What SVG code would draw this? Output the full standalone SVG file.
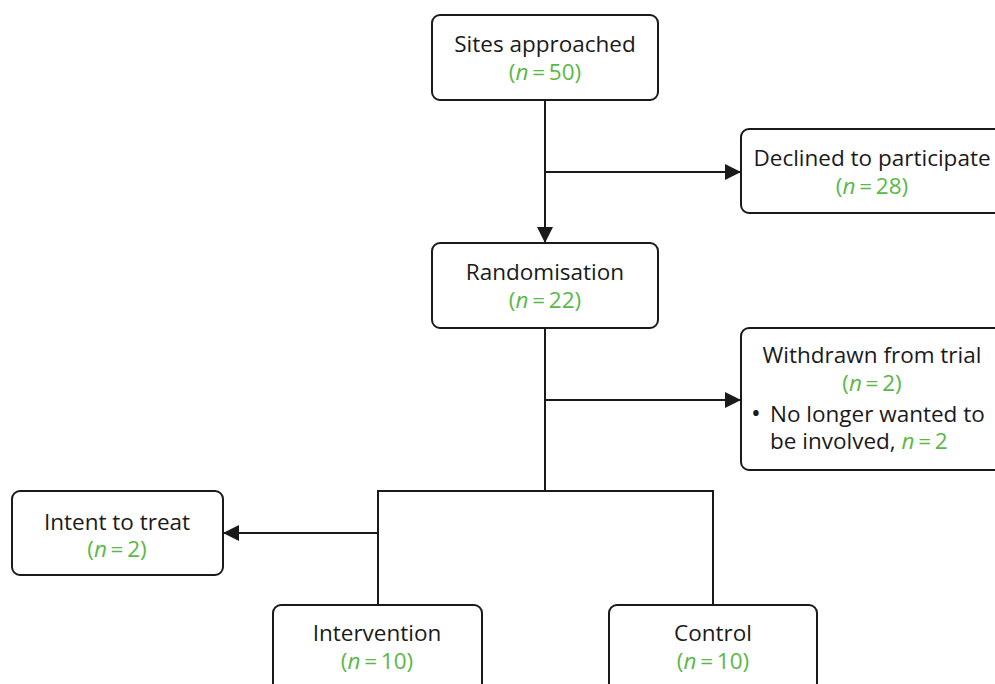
<svg xmlns="http://www.w3.org/2000/svg" width="995" height="684" viewBox="0 0 995 684">
  <style>
    .box { fill: #ffffff; stroke: #1a1a1a; stroke-width: 2; }
    .t { font-family: "Open Sans", "Noto Sans", sans-serif; font-size: 22.5px; fill: #1a1a1a; text-anchor: middle; }
    .tl { font-family: "Open Sans", "Noto Sans", sans-serif; font-size: 22.5px; fill: #1a1a1a; }
    .g { fill: #5ab946; }
    .line { fill: none; stroke: #1a1a1a; stroke-width: 2; }
  </style>
  <defs>
    <marker id="arrow" viewBox="0 0 10 10" refX="10" refY="5" markerWidth="16" markerHeight="16" markerUnits="userSpaceOnUse" orient="auto">
      <path d="M0,0 L10,5 L0,10 Z" fill="#1a1a1a"/>
    </marker>
  </defs>
  <rect width="995" height="684" fill="#ffffff"/>

  <g id="connectors">
    <line class="line" x1="545" y1="100" x2="545" y2="243" marker-end="url(#arrow)"/>
    <line class="line" x1="545" y1="172" x2="741" y2="172" marker-end="url(#arrow)"/>
    <line class="line" x1="545" y1="328" x2="545" y2="491"/>
    <line class="line" x1="545" y1="400" x2="741" y2="400" marker-end="url(#arrow)"/>
    <polyline class="line" points="378,605 378,491 713,491 713,605"/>
    <line class="line" x1="378" y1="533" x2="223" y2="533" marker-end="url(#arrow)"/>
  </g>

  <g id="sites">
    <rect class="box" x="432" y="15" width="226" height="85" rx="8"/>
    <text class="t" x="545" y="52">Sites approached</text>
    <text class="t g" x="545" y="80">(<tspan font-style="italic">n</tspan>&#8201;=&#8201;50)</text>
  </g>

  <g id="declined">
    <rect class="box" x="741" y="129" width="270" height="84" rx="8"/>
    <text class="t" x="872" y="166">Declined to participate</text>
    <text class="t g" x="872" y="194">(<tspan font-style="italic">n</tspan>&#8201;=&#8201;28)</text>
  </g>

  <g id="randomisation">
    <rect class="box" x="432" y="243" width="226" height="85" rx="8"/>
    <text class="t" x="545" y="280">Randomisation</text>
    <text class="t g" x="545" y="308">(<tspan font-style="italic">n</tspan>&#8201;=&#8201;22)</text>
  </g>

  <g id="withdrawn">
    <rect class="box" x="741" y="328" width="270" height="142" rx="8"/>
    <text class="t" x="872" y="363">Withdrawn from trial</text>
    <text class="t g" x="872" y="391">(<tspan font-style="italic">n</tspan>&#8201;=&#8201;2)</text>
    <text class="tl" x="751" y="422"><tspan font-size="26">•</tspan></text>
    <text class="tl" x="770" y="422">No longer wanted to</text>
    <text class="tl" x="770" y="449">be involved, <tspan class="g"><tspan font-style="italic">n</tspan>&#8201;=&#8201;2</tspan></text>
  </g>

  <g id="itt">
    <rect class="box" x="12" y="491" width="211" height="84" rx="8"/>
    <text class="t" x="117" y="530">Intent to treat</text>
    <text class="t g" x="117" y="557">(<tspan font-style="italic">n</tspan>&#8201;=&#8201;2)</text>
  </g>

  <g id="intervention">
    <rect class="box" x="273" y="605" width="209" height="100" rx="8"/>
    <text class="t" x="377" y="641">Intervention</text>
    <text class="t g" x="377" y="669">(<tspan font-style="italic">n</tspan>&#8201;=&#8201;10)</text>
  </g>

  <g id="control">
    <rect class="box" x="609" y="605" width="208" height="100" rx="8"/>
    <text class="t" x="713" y="641">Control</text>
    <text class="t g" x="713" y="669">(<tspan font-style="italic">n</tspan>&#8201;=&#8201;10)</text>
  </g>
</svg>
